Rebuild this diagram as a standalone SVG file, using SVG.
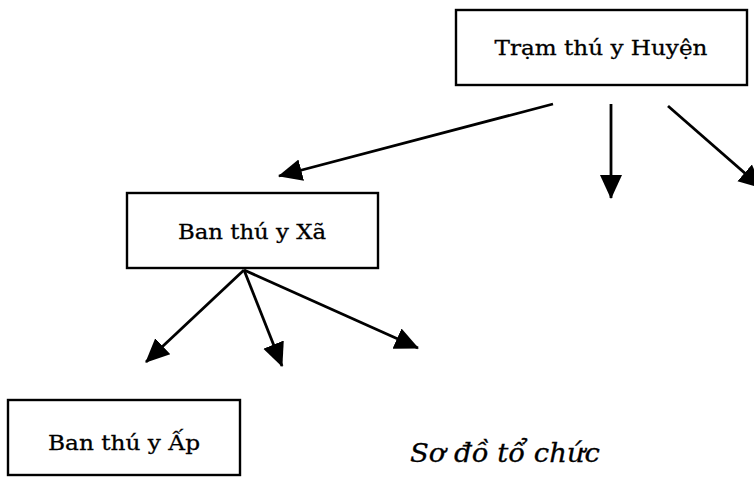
<svg xmlns="http://www.w3.org/2000/svg" width="754" height="477" viewBox="0 0 754 477">
  <style>
    .box { fill: #ffffff; stroke: #000000; stroke-width: 2.4; }
    .label { font-family: "DejaVu Serif", "Liberation Serif", serif; font-size: 21px; fill: #000000; text-anchor: middle; stroke: #000000; stroke-width: 0.3; }
    .caption { font-family: "DejaVu Serif", "Liberation Serif", serif; font-style: italic; font-size: 26px; fill: #000000; stroke: #000000; stroke-width: 0.3; }
    .edge { stroke: #000000; stroke-width: 2.8; fill: none; marker-end: url(#head); }
  </style>
  <defs>
    <marker id="head" markerUnits="userSpaceOnUse" markerWidth="26" markerHeight="26" viewBox="0 0 26 26" refX="23" refY="13" orient="auto">
      <path d="M0,2 L24,13 L0,24 Z" fill="#000000"/>
    </marker>
  </defs>
  <rect width="754" height="477" fill="#ffffff"/>

  <g id="connectors">
    <line class="edge" x1="553" y1="104" x2="279" y2="176"/>
    <line class="edge" x1="611" y1="104" x2="611" y2="198"/>
    <line class="edge" x1="668" y1="106" x2="762" y2="188"/>
    <line class="edge" x1="244" y1="270" x2="146" y2="362"/>
    <line class="edge" x1="244" y1="270" x2="282" y2="366"/>
    <line class="edge" x1="244" y1="270" x2="418" y2="348"/>
  </g>

  <g id="tram-thu-y-huyen">
    <rect class="box" x="456" y="10" width="291" height="75"/>
    <text class="label" x="601" y="55" textLength="213" lengthAdjust="spacingAndGlyphs">Trạm thú y Huyện</text>
  </g>

  <g id="ban-thu-y-xa">
    <rect class="box" x="127" y="193" width="251" height="75"/>
    <text class="label" x="252" y="239" textLength="148" lengthAdjust="spacingAndGlyphs">Ban thú y Xã</text>
  </g>

  <g id="ban-thu-y-ap">
    <rect class="box" x="8" y="400" width="232" height="75"/>
    <text class="label" x="124" y="450" textLength="152" lengthAdjust="spacingAndGlyphs">Ban thú y Ấp</text>
  </g>

  <text class="caption" x="410" y="462" textLength="190" lengthAdjust="spacingAndGlyphs">Sơ đồ tổ chức</text>
</svg>
